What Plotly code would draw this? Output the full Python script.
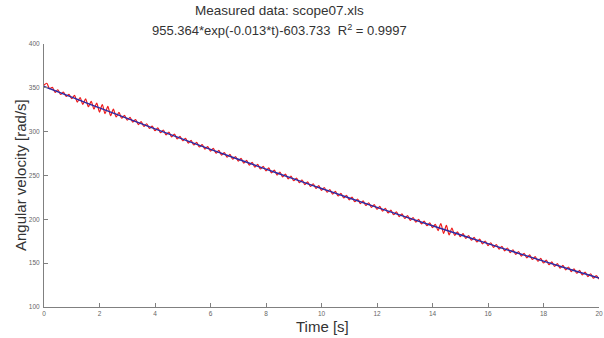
import plotly.graph_objects as go

# Measured data (red), sampled every 0.1 s
t_meas = [i / 10 for i in range(201)]
w_meas = [
    353.0, 355.2, 349.0, 350.6, 344.9, 347.8, 342.4, 345.1, 340.2, 342.6,
    337.6, 341.3, 333.8, 338.9, 331.2, 337.5, 328.4, 334.6, 325.8, 332.7,
    322.4, 331.0, 320.6, 328.9, 318.2, 325.7, 316.8, 321.9, 315.3, 318.6,
    313.0, 316.4, 310.9, 313.8, 308.1, 311.4, 305.9, 309.0, 303.7, 306.3,
    301.1, 304.3, 298.8, 301.9, 296.3, 299.6, 294.1, 297.2, 291.7, 294.6,
    289.6, 292.4, 287.0, 290.1, 284.8, 287.8, 282.5, 285.3, 280.1, 283.0,
    277.8, 281.0, 275.4, 278.6, 273.2, 276.1, 270.8, 274.2, 268.6, 271.7,
    266.4, 269.6, 264.1, 267.3, 261.8, 265.0, 259.6, 262.7, 257.4, 260.5,
    255.2, 258.6, 253.0, 256.1, 250.5, 254.0, 248.4, 251.6, 246.1, 249.4,
    244.0, 247.1, 241.8, 244.9, 239.6, 242.8, 237.5, 240.6, 235.3, 238.4,
    233.1, 236.3, 230.9, 234.0, 228.7, 231.9, 226.6, 229.7, 224.4, 227.5,
    222.2, 225.4, 220.1, 223.2, 217.9, 221.1, 215.8, 218.9, 213.6, 216.8,
    211.5, 214.7, 209.4, 212.5, 207.3, 210.5, 205.2, 208.4, 203.1, 206.3,
    201.0, 204.2, 198.9, 202.1, 196.9, 200.0, 194.8, 197.9, 192.7, 195.9,
    190.6, 194.3, 187.2, 195.1, 184.0, 193.2, 182.3, 190.1, 181.8, 185.7,
    180.3, 183.6, 178.3, 181.5, 176.2, 179.4, 174.2, 177.4, 172.1, 175.3,
    170.1, 173.3, 168.1, 171.3, 166.1, 169.3, 164.1, 167.3, 162.1, 165.3,
    160.1, 163.3, 158.1, 161.3, 156.1, 159.4, 154.2, 157.4, 152.2, 155.4,
    150.2, 153.4, 148.2, 151.5, 146.3, 149.5, 144.3, 147.5, 142.4, 145.6,
    140.4, 143.6, 138.5, 141.7, 136.6, 139.8, 134.7, 137.9, 132.8, 135.9,
    131.8,
]

# Fitted curve (blue), read at 1 s steps
t_fit = list(range(21))
w_fit = [351.6, 339.3, 327.1, 315.1, 303.2, 291.5, 279.9, 268.5, 257.3, 246.1,
         235.2, 224.3, 213.6, 203.1, 192.7, 182.4, 172.2, 162.2, 152.3, 142.5, 133.0]

x_ticks = [0, 2, 4, 6, 8, 10, 12, 14, 16, 18, 20]
y_ticks = [100, 150, 200, 250, 300, 350, 400]

title_line1 = "Measured data: scope07.xls"
title_line2 = "955.364*exp(-0.013*t)-603.733\u00a0\u00a0R<sup>2</sup> = 0.9997"

FONT = "Liberation Sans, Arial, sans-serif"

fig = go.Figure()
fig.add_trace(go.Scatter(x=t_meas, y=w_meas, mode="lines",
                         line=dict(color="#ee1a1a", width=1.2, shape="spline", smoothing=0.8),
                         showlegend=False))
fig.add_trace(go.Scatter(x=t_fit, y=w_fit, mode="lines",
                         line=dict(color="#2b2ba6", width=1.4, shape="spline"), showlegend=False))

axis_common = dict(
    showgrid=False, zeroline=False, showline=True, linecolor="#808080", linewidth=1,
    ticks="inside", ticklen=4, tickcolor="#808080",
    tickfont=dict(family=FONT, size=6.5, color="#666666"),
)
fig.update_xaxes(range=[0, 20], tickvals=x_ticks, **axis_common)
fig.update_yaxes(range=[100, 400], tickvals=y_ticks, ticklabelstandoff=2, **axis_common)

fig.update_layout(
    width=604, height=338,
    margin=dict(l=44, r=5, t=44, b=31, autoexpand=False),
    paper_bgcolor="white", plot_bgcolor="white",
    font=dict(family=FONT, color="#333333"),
    annotations=[
        dict(text=title_line1, xref="paper", yref="paper", x=(279 - 44) / 555, y=(307 - 11) / 263,
             showarrow=False, xanchor="center", yanchor="middle", font=dict(size=13.5, color="#333333")),
        dict(text=title_line2, xref="paper", yref="paper", x=(279 - 44) / 555, y=(307 - 30) / 263,
             showarrow=False, xanchor="center", yanchor="middle", font=dict(size=13, color="#333333")),
        dict(text="Time [s]", xref="paper", yref="paper", x=(322 - 44) / 555, y=-19 / 263,
             showarrow=False, xanchor="center", yanchor="middle", font=dict(size=15, color="#333333")),
        dict(text="Angular velocity [rad/s]", xref="paper", yref="paper", x=(20 - 44) / 555,
             y=(307 - 175) / 263, textangle=-90,
             showarrow=False, xanchor="center", yanchor="middle", font=dict(size=15, color="#333333")),
    ],
)

fig.write_html("out.html", config={"displayModeBar": False},
               post_script="document.body.style.margin='0';document.body.style.padding='0';")
